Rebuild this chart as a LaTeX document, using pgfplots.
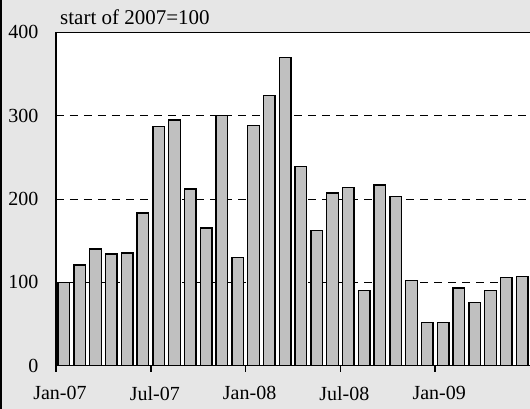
\documentclass[border=0pt]{standalone}
\usepackage{pgfplots}
\pgfplotsset{compat=1.18}
\usepackage{fontspec}
\setmainfont{Liberation Serif}
\definecolor{bg}{RGB}{230,230,230}
\definecolor{barfill}{RGB}{192,192,192}

\begin{document}
\begin{tikzpicture}
\fill[bg] (-56pt,-43.3pt) rectangle (474pt,365.7pt);
\draw[line width=2.5pt] (-54.75pt,-43.3pt) -- (-54.75pt,365.7pt);
\begin{axis}[
    at={(0,0)}, anchor=south west,
    scale only axis,
    width=474pt, height=333.4pt,
    xmin=0, xmax=30, ymin=0, ymax=400,
    axis x line=bottom, axis y line=left,
    axis line style={-, line width=1.5pt},
    axis background/.style={fill=white},
    xtick={0,6,12,18,24},
    xticklabels={Jan-07,Jul-07,Jan-08,Jul-08,Jan-09},
    ytick={0,100,200,300,400},
    tick align=outside,
    major tick length=6pt,
    xtick style={line width=1.5pt, black},
    ytick style={draw=none},
    ymajorgrids,
    grid style={black, line width=0.7pt, dash pattern=on 8pt off 6pt},
    tick label style={font=\rmfamily\fontsize{20}{23}\selectfont},
    /pgf/number format/assume math mode=true,
    xticklabel style={yshift=-11pt, xshift=4pt},
    yticklabel style={xshift=-8pt},
    ybar, bar width=0.74,
]
\addplot[fill=barfill, draw=black, line width=1.5pt] coordinates {
(0.5,100) (1.5,121) (2.5,140) (3.5,134) (4.5,135) (5.5,183)
(6.5,287) (7.5,295) (8.5,212) (9.5,165) (10.5,300) (11.5,130)
(12.5,288) (13.5,324) (14.5,370) (15.5,239) (16.5,162) (17.5,207)
(18.5,214) (19.5,90) (20.5,217) (21.5,203) (22.5,102) (23.5,52)
(24.5,52) (25.5,93) (26.5,76) (27.5,90) (28.5,106) (29.5,107)
};
\end{axis}
\draw[line width=1.5pt] (0,333.4pt) -- (474pt,333.4pt);
\node[anchor=west, inner sep=0pt, font=\rmfamily\fontsize{21}{24}\selectfont] at (4pt,348.7pt) {start of 2007=100};
\pgfresetboundingbox
\path[use as bounding box] (-56pt,-43.3pt) rectangle (474pt,365.7pt);
\end{tikzpicture}
\end{document}
